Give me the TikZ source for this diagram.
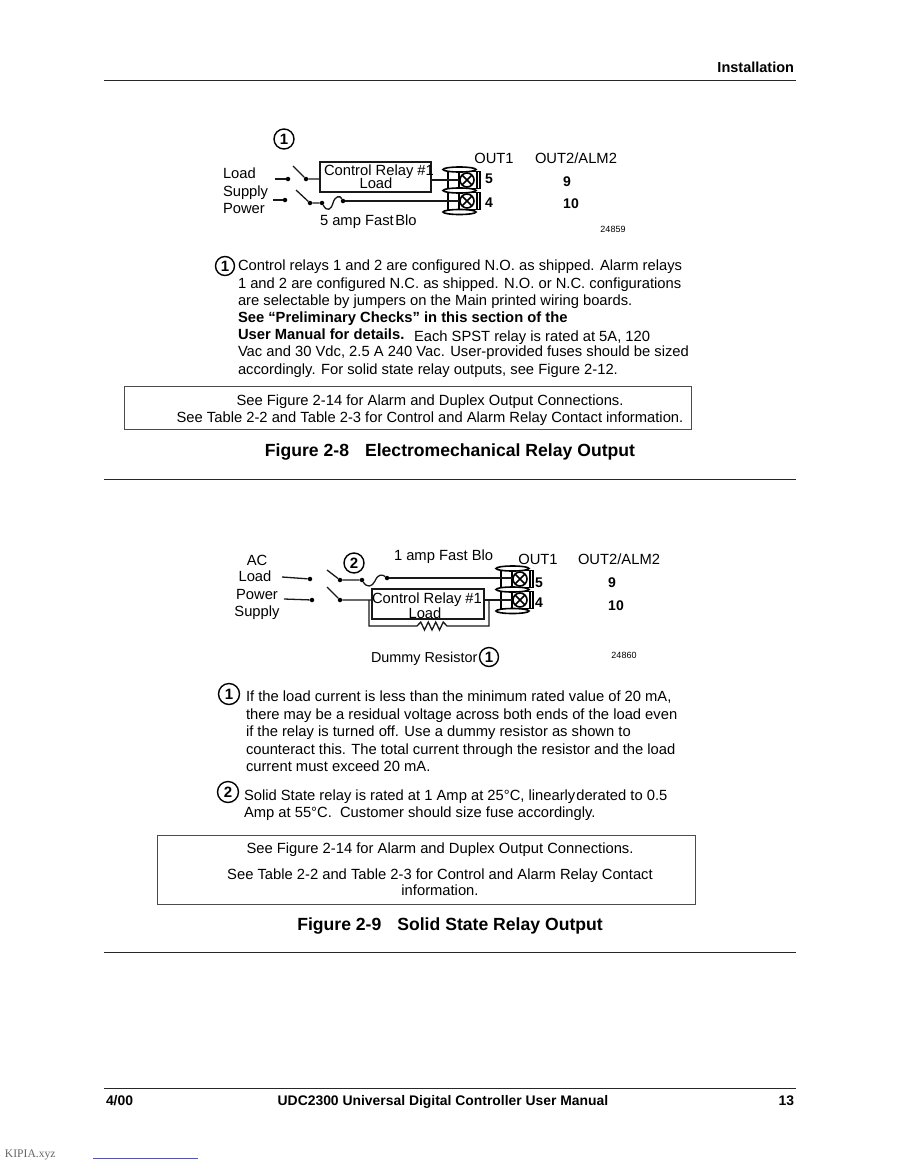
\documentclass[tikz,border=0pt]{standalone}
\usepackage{fontspec}
\setmainfont{Liberation Sans}
\newfontfamily\serifx{Liberation Serif}
\usetikzlibrary{calc}
\tikzset{
 x=1pt,y=-1pt,
 wire/.style={line width=1.3pt,black!90},
 rulex/.style={line width=1pt,black!85},
 txt/.style={anchor=base west,inner sep=0,outer sep=0,font=\fontsize{14.75}{15}\selectfont,text=black},
 ctr/.style={txt,anchor=base},
 bld/.style={txt,font=\fontsize{14.75}{15}\selectfont\bfseries},
 bldc/.style={bld,anchor=base},
 bldr/.style={bld,anchor=base east},
 foot/.style={font=\fontsize{13.9}{14}\selectfont\bfseries},
 num/.style={ctr,font=\fontsize{14}{14}\selectfont\bfseries},
 tiny/.style={ctr,font=\fontsize{9}{9}\selectfont},
 fig/.style={bldc,font=\fontsize{17.6}{18}\selectfont\bfseries},
 callout/.style={circle,draw,line width=1.4pt,minimum size=20pt,inner sep=0,font=\fontsize{15}{15}\selectfont\bfseries},
 dotn/.style={circle,fill=black,minimum size=4.5pt,inner sep=0},
 relay/.style={draw,line width=1.1pt,black!90,rectangle,inner sep=0},
 infobox/.style={draw,line width=0.7pt,black!70,inner sep=0}
}
\newcommand{\terminals}[3]{% x of screw, y of top screw, y of bottom screw
 \draw[line width=1.6pt,black] (#1-7.5,#2-10.5) ellipse[x radius=16.5,y radius=2.5]
   (#1-7.5,#2+10.5) ellipse[x radius=16.5,y radius=2.5] (#1-7.5,#3+11) ellipse[x radius=16.5,y radius=2.5];
 \foreach \yy in {#2,#3}{
 \draw[line width=1.2pt,black] (#1-19,\yy-8.5) rectangle (#1+13,\yy+8.5);
 \draw[line width=1.2pt,black] (#1-8,\yy-8.5)--(#1-8,\yy+8.5) (#1+10,\yy-8.5)--(#1+10,\yy+8.5);
 \draw[line width=1.6pt,black,fill=white] (#1,\yy) circle[radius=7];
 \draw[line width=1.6pt,black] (#1-5,\yy-5)--(#1+5,\yy+5) (#1-5,\yy+5)--(#1+5,\yy-5);
 }
}
\begin{document}
\begin{tikzpicture}
\useasboundingbox (0,0) rectangle (900,1165);
\fill[white] (0,0) rectangle (900,1165);
% header
\node[bldr,font=\fontsize{14.5}{15}\selectfont\bfseries] (hdr) at (794,72) {Installation};
\coordinate (r1a) at (104,80); \coordinate (r1b) at (796,80);
\draw[rulex] (r1a)--(r1b);
% diagram 1
\node[callout] (c1) at (284,139) {1};
\node[txt] at (223,178) {Load};
\node[txt] at (223,196) {Supply};
\node[txt] at (223,213) {Power};
\node[ctr] at (494,163) {OUT1};
\node[ctr] at (576,163) {OUT2/ALM2};
\node[num] at (489,183) {5};
\node[num] at (489,207) {4};
\node[num] at (567,186) {9};
\node[num] at (571,208) {10};
\node[tiny] at (613,232) {24859};
\node[txt] at (320,225) {5 amp Fast\hspace{1.5pt}Blo};
\node[relay,minimum width=111pt,minimum height=30pt] (rel1) at (375.5,177) {};
\node[ctr] at (379,175) {Control Relay \#1};
\node[ctr] at (376,188) {Load};
\terminals{467}{180}{201}
\coordinate (t5a) at (459,180); \coordinate (t4a) at (459,201);
\node[dotn] (a1) at (288,179) {};
\node[dotn] (a2) at (285,200) {};
\node[dotn] (a3) at (306,179) {};
\node[dotn] (a4) at (310,203) {};
\node[dotn] (a5) at (322,203) {};
\node[dotn] (a6) at (343,201) {};
\coordinate (a0) at (275,179); \coordinate (b0) at (273,200);
\coordinate (s1) at (293,166); \coordinate (s2) at (296,190);
\draw[wire] (a0)--(a1); \draw[wire] (b0)--(a2);
\draw[wire] (s1)--(a3)--(rel1.west|-a3);
\draw[wire] (s2)--(a4)--(a5) .. controls (327,212) and (331,210) .. (333,203) .. controls (335,196) and (340,195) .. (a6);
\draw[wire] (a6)--(t4a);
\draw[wire] (rel1.east|-t5a)--(t5a);
% note 1
\node[callout,minimum size=19pt] (n1) at (225,266) {1};
\node[txt] at (238,270) {Control relays 1 and 2 are configured N.O. as shipped. Alarm relays};
\node[txt] at (238,288) {1 and 2 are configured N.C. as shipped. N.O. or N.C. configurations};
\node[txt] at (238,305) {are selectable by jumpers on the Main printed wiring boards.};
\node[bld] at (238,322) {See “Preliminary Checks” in this section of the};
\node[bld] at (238,339) {User Manual for details.};
\node[txt] at (414,341) {Each SPST relay is rated at 5A, 120};
\node[txt] at (238,356) {Vac and 30 Vdc, 2.5 A 240 Vac. User-provided fuses should be sized};
\node[txt] at (238,374) {accordingly. For solid state relay outputs, see Figure 2-12.};
\node[infobox,minimum width=567pt,minimum height=43.5pt] (box1) at (407.5,408) {};
\node[ctr] at (430,405) {See Figure 2-14 for Alarm and Duplex Output Connections.};
\node[ctr] at (430,422) {See Table 2-2 and Table 2-3 for Control and Alarm Relay Contact information.};
\node[fig] at (450,456) {Figure 2-8\hspace{16pt}Electromechanical Relay Output};
\coordinate (r2a) at (104,479); \coordinate (r2b) at (796,479);
\draw[rulex] (r2a)--(r2b);
% diagram 2
\node[ctr] at (257,565) {AC};
\node[ctr] at (255,581) {Load};
\node[ctr] at (257,599) {Power};
\node[ctr] at (257,616) {Supply};
\node[callout] (c2) at (354,563) {2};
\node[txt] at (394,560) {1 amp Fast Blo};
\node[ctr] at (538,564) {OUT1};
\node[ctr] at (619,564) {OUT2/ALM2};
\node[num] at (539,587) {5};
\node[num] at (539,607) {4};
\node[num] at (612,587) {9};
\node[num] at (616,610) {10};
\node[tiny] at (624,658) {24860};
\node[txt,font=\fontsize{14.4}{15}\selectfont] at (371,662) {Dummy Resistor};
\node[callout,minimum size=19pt] (c3) at (489,657) {1};
\terminals{520}{579}{600}
\node[relay,minimum width=112pt,minimum height=30pt] (rel2) at (428,604) {};
\node[ctr] at (427,603) {Control Relay \#1};
\node[ctr] at (425,618) {Load};
\node[dotn] (d1) at (310,579) {};
\node[dotn] (d2) at (312,600) {};
\node[dotn] (d3) at (340,580) {};
\node[dotn] (d4) at (340,600) {};
\node[dotn] (d5) at (362,580) {};
\node[dotn] (d6) at (387,578) {};
\coordinate (e1) at (282,577); \coordinate (e2) at (284,599);
\coordinate (s3) at (327,570); \coordinate (s4) at (327,587);
\coordinate (t5b) at (512,578); \coordinate (t4b) at (512,600);
\draw[wire] (e1)--(d1); \draw[wire] (e2)--(d2);
\draw[wire] (s3)--(d3)--(d5) .. controls (367,588) and (372,587) .. (375,581) .. controls (378,574) and (382,574) .. (d6);
\draw[wire] (d6)--(t5b);
\draw[wire] (s4)--(d4)--(rel2.west|-d4);
\draw[wire] (rel2.east|-t4b)--(t4b);
\coordinate (l1) at (369,600); \coordinate (l2) at (369,626);
\coordinate (m1) at (489,600); \coordinate (m2) at (489,626);
\draw[wire] (l1)--(l2)--(417,626) -- ++(3.75,-4) -- ++(3.75,8) -- ++(3.75,-8) -- ++(3.75,8) -- ++(3.75,-8) -- ++(3.75,8) -- ++(3.75,-8) -- ++(3.75,4) -- (m2)--(m1);
% notes 2
\node[callout,minimum size=21pt] (n2) at (229,694) {1};
\node[txt] at (246,701) {If the load current is less than the minimum rated value of 20 mA,};
\node[txt] at (246,719) {there may be a residual voltage across both ends of the load even};
\node[txt] at (246,736) {if the relay is turned off. Use a dummy resistor as shown to};
\node[txt] at (246,754) {counteract this. The total current through the resistor and the load};
\node[txt] at (246,771) {current must exceed 20 mA.};
\node[callout,minimum size=21pt] (n3) at (228,792) {2};
\node[txt] at (244,800) {Solid State relay is rated at 1 Amp at 25°C, linearly\hspace{1pt}derated to 0.5};
\node[txt] at (244,817) {Amp at 55°C.\ \ Customer should size fuse accordingly.};
\node[infobox,minimum width=538pt,minimum height=69pt] (box2) at (426.5,869.5) {};
\node[ctr] at (440,853) {See Figure 2-14 for Alarm and Duplex Output Connections.};
\node[ctr] at (440,879) {See Table 2-2 and Table 2-3 for Control and Alarm Relay Contact};
\node[ctr] at (440,895) {information.};
\node[fig] at (450,930) {Figure 2-9\hspace{16pt}Solid State Relay Output};
\coordinate (r3a) at (104,952); \coordinate (r3b) at (796,952);
\draw[rulex] (r3a)--(r3b);
% footer
\coordinate (r4a) at (104,1088); \coordinate (r4b) at (796,1088);
\draw[rulex] (r4a)--(r4b);
\node[bld,foot] at (106,1105) {4/00};
\node[bldc,foot] at (443,1105) {UDC2300 Universal Digital Controller User Manual};
\node[bldr,foot] at (794,1105) {13};
\node[txt,font=\fontsize{11.6}{12}\selectfont\serifx,text=black!60] at (5,1157) {KIPIA.xyz};
\coordinate (lk1) at (93,1158); \coordinate (lk2) at (198,1158);
\draw[line width=1pt,blue!70!white] (lk1)--(lk2);
\end{tikzpicture}
\end{document}
